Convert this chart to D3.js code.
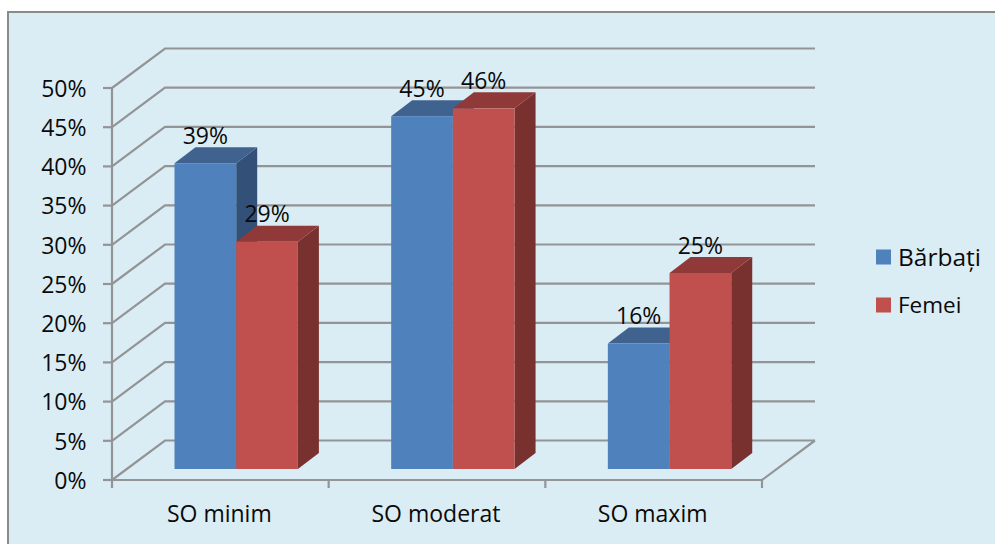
<!DOCTYPE html>
<html>
<head>
<meta charset="utf-8">
<script src="https://d3js.org/d3.v7.min.js"></script>
<style>
html,body{margin:0;padding:0;background:#fff}
svg{display:block}
text{font-family:"Open Sans",sans-serif;fill:#0a0a0a}
</style>
</head>
<body>
<svg id="chart" width="995" height="544"></svg>
<script>
const categories = ["SO minim", "SO moderat", "SO maxim"];
const seriesNames = ["Bărbați", "Femei"];
const barbati = [39, 45, 16];
const femei = [29, 46, 25];
const yTicks = [0, 5, 10, 15, 20, 25, 30, 35, 40, 45, 50];

const seriesValues = [barbati, femei];
const palette = [
  {front: "#4f81bd", top: "#3f628f", side: "#335078"},
  {front: "#c0504d", top: "#8f3a38", side: "#78312f"}
];

const svg = d3.select("#chart");
const grid = "#929496";

// Panel
svg.append("rect").attr("x", 8).attr("y", 12).attr("width", 1000).attr("height", 560)
  .attr("fill", "#dbedf4").attr("stroke", "#8a8a8a").attr("stroke-width", 2);

// Front plane scales and the receding depth of the chart box
const x = d3.scaleBand().domain(categories).range([112, 762]);
const y = d3.scaleLinear().domain([0, 50]).range([480, 88]);
const depth = {dx: 53, dy: -39.5};
const barDepth = {dx: 21, dy: -16};
const floorLift = 11;
const barWidth = 61.7;
const barInset = 62.5;

const walls = svg.append("g").attr("fill", "none").attr("stroke", grid).attr("stroke-width", 2.2);

// Gridlines: diagonal on the side wall, horizontal along the back wall
walls.selectAll("path.gridline").data(yTicks).join("path")
  .attr("class", "gridline")
  .attr("d", d => {
    const p = d3.path();
    p.moveTo(x.range()[0], y(d));
    p.lineTo(x.range()[0] + depth.dx, y(d) + depth.dy);
    p.lineTo(x.range()[1] + depth.dx, y(d) + depth.dy);
    return p.toString();
  });

// Value axis with outward ticks
walls.append("line").attr("x1", 112).attr("x2", 112).attr("y1", y(50)).attr("y2", y(0));
walls.selectAll("line.ytick").data(yTicks).join("line")
  .attr("class", "ytick")
  .attr("x1", 103).attr("x2", 112).attr("y1", d => y(d)).attr("y2", d => y(d));

// Floor edges and category ticks
walls.append("path").attr("d", () => {
  const p = d3.path();
  p.moveTo(x.range()[0], y(0));
  p.lineTo(x.range()[1], y(0));
  p.lineTo(x.range()[1] + depth.dx, y(0) + depth.dy);
  return p.toString();
});
const catEdges = categories.map(c => x(c)).concat(x.range()[1]);
walls.selectAll("line.xtick").data(catEdges).join("line")
  .attr("class", "xtick")
  .attr("x1", d => d).attr("x2", d => d).attr("y1", y(0)).attr("y2", y(0) + 8);

// Value axis labels
svg.selectAll("text.ylab").data(yTicks).join("text")
  .attr("class", "ylab")
  .attr("x", 86.5).attr("y", d => y(d) + 0.5).attr("dy", "0.36em")
  .attr("text-anchor", "end").attr("font-size", 23)
  .text(d => d + "%");

// Category labels
svg.selectAll("text.xlab").data(categories).join("text")
  .attr("class", "xlab")
  .attr("x", d => x(d) + x.bandwidth() / 2 - 1).attr("y", 514)
  .attr("dy", "0.36em").attr("text-anchor", "middle").attr("font-size", 23)
  .text(d => d);

// Bars: each is a front face, a top face and a side face
const baseY = v => y(v) - floorLift;
const faces = svg.append("g");
categories.forEach((c, ci) => {
  // Left bar first so the right bar's faces overlap its side
  seriesValues.forEach((vals, si) => {
    const v = vals[ci];
    const x0 = x(c) + barInset + si * barWidth;
    const x1 = x0 + barWidth;
    const yt = baseY(v), yb = baseY(0);
    const g = faces.append("g");
    const poly = pts => pts.map(q => q.join(",")).join(" ");
    g.append("polygon").attr("fill", palette[si].side).attr("points", poly([
      [x1, yt], [x1 + barDepth.dx, yt + barDepth.dy], [x1 + barDepth.dx, yb + barDepth.dy], [x1, yb]
    ]));
    g.append("polygon").attr("fill", palette[si].top).attr("points", poly([
      [x0, yt], [x0 + barDepth.dx, yt + barDepth.dy], [x1 + barDepth.dx, yt + barDepth.dy], [x1, yt]
    ]));
    g.append("rect").attr("x", x0).attr("y", yt).attr("width", barWidth).attr("height", yb - yt)
      .attr("fill", palette[si].front);
  });
});

// Value labels sit over the bar tops
categories.forEach((c, ci) => {
  seriesValues.forEach((vals, si) => {
    const v = vals[ci];
    svg.append("text").attr("class", "vlab")
      .attr("x", x(c) + barInset + si * barWidth + barWidth / 2)
      .attr("y", baseY(v) - 27.5).attr("dy", "0.36em")
      .attr("text-anchor", "middle").attr("font-size", 23)
      .text(v + "%");
  });
});

// Legend
const legendRows = [
  {y: 257, size: 24.5},
  {y: 305, size: 22.5}
];
seriesNames.forEach((name, i) => {
  svg.append("rect").attr("x", 876).attr("y", legendRows[i].y - 7.5).attr("width", 15).attr("height", 15)
    .attr("fill", palette[i].front);
  svg.append("text").attr("x", 898).attr("y", legendRows[i].y).attr("dy", "0.36em")
    .attr("font-size", legendRows[i].size).text(name);
});
</script>
</body>
</html>
